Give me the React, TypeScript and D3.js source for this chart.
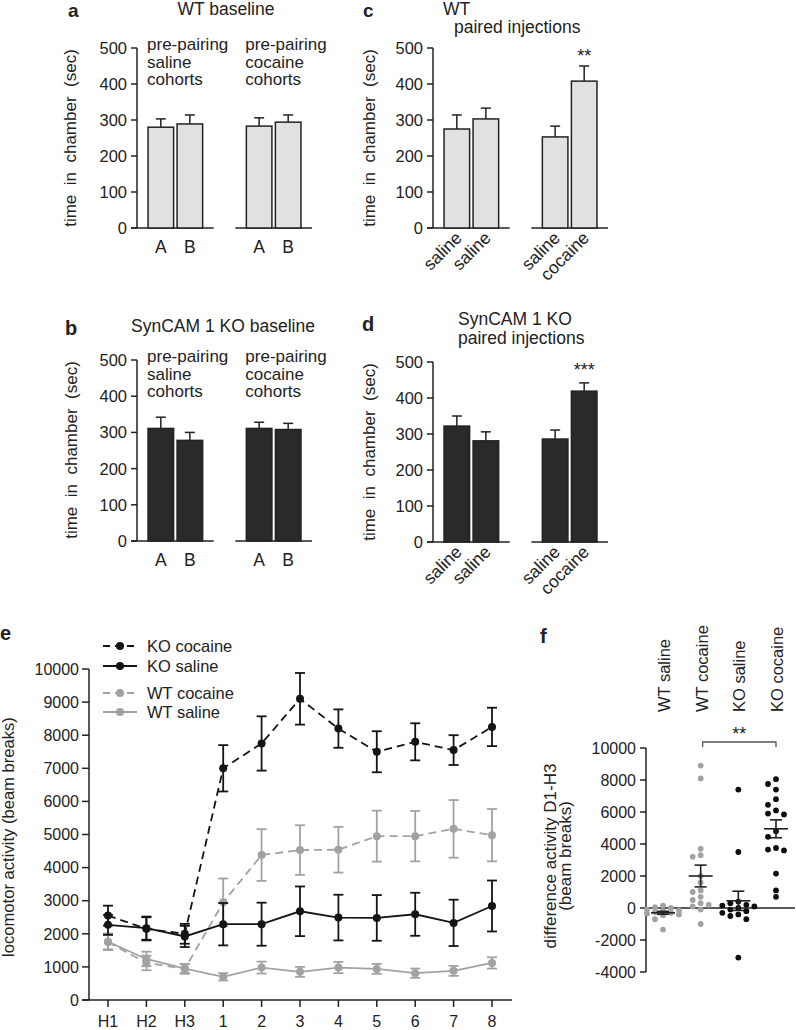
import React from "react";
import * as d3 from "d3";

const FONT = "'Liberation Sans', Arial, Helvetica, sans-serif";
const INK = "#222";
const LIGHT_FILL = "#e1e1e1";
const DARK_FILL = "#2a2a2a";
const GRAY = "#a2a2a2";

// ---------- panels a-d (time in chamber, sec) ----------
const chamberTicks = [0, 100, 200, 300, 400, 500];
const baselineGroups = ["saline cohorts", "cocaine cohorts"];
const baselineGroupText = [
  ["pre-pairing", "saline", "cohorts"],
  ["pre-pairing", "cocaine", "cohorts"],
];
const baselineBarLabels = ["A", "B", "A", "B"];
const wtBaselineMean = [280, 289, 283, 294];
const wtBaselineSem = [23, 25, 23, 20];
const koBaselineMean = [311, 278, 311, 308];
const koBaselineSem = [31, 22, 17, 17];

const pairedGroups = ["saline paired", "cocaine paired"];
const pairedBarLabels = ["saline", "saline", "saline", "cocaine"];
const wtPairedMean = [275, 303, 253, 408];
const wtPairedSem = [39, 30, 30, 42];
const koPairedMean = [322, 281, 286, 419];
const koPairedSem = [28, 25, 25, 23];

// ---------- panel e (locomotor activity) ----------
const sessions = ["H1", "H2", "H3", "1", "2", "3", "4", "5", "6", "7", "8"];
const activityTicks = [0, 1000, 2000, 3000, 4000, 5000, 6000, 7000, 8000, 9000, 10000];
const koCocaineMean = [2550, 2150, 2000, 7000, 7750, 9100, 8200, 7500, 7800, 7550, 8250];
const koCocaineSem = [300, 350, 300, 700, 820, 780, 580, 620, 560, 450, 580];
const koSalineMean = [2270, 2170, 1920, 2290, 2290, 2680, 2490, 2480, 2590, 2330, 2840];
const koSalineSem = [300, 350, 320, 640, 650, 750, 690, 690, 650, 700, 770];
const wtCocaineMean = [1750, 1120, 940, 2950, 4380, 4530, 4540, 4950, 4950, 5170, 4980];
const wtCocaineSem = [220, 220, 150, 720, 780, 750, 690, 770, 760, 870, 790];
const wtSalineMean = [1760, 1240, 950, 700, 980, 850, 980, 940, 810, 880, 1120];
const wtSalineSem = [250, 220, 130, 110, 180, 150, 170, 150, 140, 150, 170];
const legendNames = ["KO cocaine", "KO saline", "WT cocaine", "WT saline"];

// ---------- panel f (difference D1-H3) ----------
const diffGroups = ["WT saline", "WT cocaine", "KO saline", "KO cocaine"];
const diffTicks = [-4000, -2000, 0, 2000, 4000, 6000, 8000, 10000];
const wtSalineDiff = [150, 50, 0, -100, -150, -200, -250, -300, -350, -400, -450, -700, -1350];
const wtCocaineDiff = [8900, 8100, 3700, 3300, 3200, 2000, 1600, 1100, 1000, 700, 500, 300, 200, 100, -100, -1000];
const koSalineDiff = [7400, 3500, 400, 300, 200, 150, 100, 0, -100, -200, -300, -400, -500, -700, -3100];
const koCocaineDiff = [8050, 7750, 7400, 6800, 6450, 6100, 5900, 5850, 4800, 4450, 3750, 3650, 3600, 2150, 1100, 700];
const diffMean = [-300, 2000, 450, 4950];
const diffSem = [90, 680, 600, 560];

type BarPanelProps = {
  axisX: number;
  yBottom: number;
  yTop: number;
  xEnd: number;
  groups: string[];
  labels: string[];
  means: number[];
  sems: number[];
  fill: string;
  rotated: boolean;
  sig?: string;
  sigY?: number;
  groupText?: string[][];
};

function BarPanel(p: BarPanelProps) {
  const y = d3.scaleLinear().domain([0, 500]).range([p.yBottom, p.yTop]);
  const outer = d3.scaleBand<string>().domain(p.groups).range([p.axisX, p.xEnd]).paddingInner(0.22);
  const inner = d3
    .scaleBand<string>()
    .domain(["0", "1"])
    .range([0, outer.bandwidth()])
    .paddingInner(0.12)
    .paddingOuter(0.38);
  const bars = p.means.map((m, i) => {
    const g = p.groups[Math.floor(i / 2)];
    const x0 = (outer(g) as number) + (inner(String(i % 2)) as number);
    return { x0, w: inner.bandwidth(), m, s: p.sems[i], label: p.labels[i] };
  });
  return (
    <g>
      <line x1={p.axisX} x2={p.axisX} y1={y(0)} y2={y(500)} stroke={INK} strokeWidth={1.5} />
      {chamberTicks.map((t) => (
        <g key={t}>
          <line x1={p.axisX - 6} x2={p.axisX} y1={y(t)} y2={y(t)} stroke={INK} strokeWidth={1.5} />
          <text x={p.axisX - 10} y={y(t)} dy="0.36em" textAnchor="end" fontSize={16.5}>
            {t}
          </text>
        </g>
      ))}
      {p.groups.map((g, gi) => (
        <line
          key={g}
          x1={gi === 0 ? p.axisX - 6 : (outer(g) as number)}
          x2={(outer(g) as number) + outer.bandwidth()}
          y1={y(0)}
          y2={y(0)}
          stroke={INK}
          strokeWidth={1.5}
        />
      ))}
      {bars.map((b, i) => {
        const cx = b.x0 + b.w / 2;
        return (
          <g key={i}>
            <line x1={cx} x2={cx} y1={y(b.m)} y2={y(b.m + b.s)} stroke={INK} strokeWidth={1.5} />
            <line x1={cx - 5} x2={cx + 5} y1={y(b.m + b.s)} y2={y(b.m + b.s)} stroke={INK} strokeWidth={1.5} />
            <rect x={b.x0} y={y(b.m)} width={b.w} height={y(0) - y(b.m)} fill={p.fill} stroke={INK} strokeWidth={1.5} />
            {p.rotated ? (
              <text
                transform={`translate(${cx + 6},${y(0) + 11}) rotate(-45)`}
                textAnchor="end"
                fontSize={17.5}
              >
                {b.label}
              </text>
            ) : (
              <text x={cx} y={y(0) + 25} textAnchor="middle" fontSize={17.5}>
                {b.label}
              </text>
            )}
          </g>
        );
      })}
      {p.sig && (
        <text x={bars[3].x0 + bars[3].w / 2} y={p.sigY} textAnchor="middle" fontSize={18}>
          {p.sig}
        </text>
      )}
      {p.groupText &&
        p.groupText.map((lines, gi) => (
          <text key={gi} x={bars[gi * 2].x0 - 1} y={p.yTop + 2} fontSize={17}>
            {lines.map((l, li) => (
              <tspan key={li} x={bars[gi * 2].x0 - 1} dy={li === 0 ? 0 : 17.5}>
                {l}
              </tspan>
            ))}
          </text>
        ))}
    </g>
  );
}

function swarmOffsets(values: number[], y: (v: number) => number, step: number, minDist: number) {
  const placed: { x: number; y: number }[] = [];
  const order = values.map((_, i) => i).sort((a, b) => values[b] - values[a]);
  const out: number[] = new Array(values.length).fill(0);
  const cands = [0, -step, step, -2 * step, 2 * step];
  for (const i of order) {
    const py = y(values[i]);
    let best = 0;
    let bestScore = -1;
    for (const c of cands) {
      let md = Infinity;
      for (const q of placed) {
        const d = Math.hypot(q.x - c, q.y - py);
        if (d < md) md = d;
      }
      if (md >= minDist) {
        best = c;
        break;
      }
      if (md > bestScore) {
        bestScore = md;
        best = c;
      }
    }
    placed.push({ x: best, y: py });
    out[i] = best;
  }
  return out;
}

function PanelE() {
  const x = d3.scalePoint<string>().domain(sessions).range([108, 492]);
  const y = d3.scaleLinear().domain([0, 10000]).range([1000, 669]);
  const axisX = 89;
  const series = [
    { name: "WT saline", mean: wtSalineMean, sem: wtSalineSem, color: GRAY, dash: "" },
    { name: "WT cocaine", mean: wtCocaineMean, sem: wtCocaineSem, color: GRAY, dash: "8,5" },
    { name: "KO saline", mean: koSalineMean, sem: koSalineSem, color: "#141414", dash: "" },
    { name: "KO cocaine", mean: koCocaineMean, sem: koCocaineSem, color: "#141414", dash: "8,5" },
  ];
  const line = d3
    .line<number>()
    .x((_, i) => x(sessions[i]) as number)
    .y((d) => y(d));
  const legendY = [646, 666, 693, 712];
  return (
    <g>
      <text x={0} y={640} fontSize={20} fontWeight="bold">e</text>
      <line x1={axisX} x2={axisX} y1={y(0)} y2={y(10000)} stroke={INK} strokeWidth={1.5} />
      {activityTicks.map((t) => (
        <g key={t}>
          <line x1={axisX - 7} x2={axisX} y1={y(t)} y2={y(t)} stroke={INK} strokeWidth={1.5} />
          <text x={axisX - 10} y={y(t)} dy="0.36em" textAnchor="end" fontSize={16}>
            {t}
          </text>
        </g>
      ))}
      <line x1={axisX - 7} x2={512} y1={y(0)} y2={y(0)} stroke={INK} strokeWidth={1.5} />
      {sessions.map((s) => (
        <g key={s}>
          <line x1={x(s)} x2={x(s)} y1={y(0)} y2={y(0) + 7} stroke={INK} strokeWidth={1.5} />
          <text x={x(s)} y={1027} textAnchor="middle" fontSize={16}>
            {s}
          </text>
        </g>
      ))}
      <text transform={`translate(14,837) rotate(-90)`} textAnchor="middle" fontSize={16.6}>
        locomotor activity (beam breaks)
      </text>
      {series.map((s) => (
        <g key={s.name}>
          <path
            d={line(s.mean) as string}
            fill="none"
            stroke={s.color}
            strokeWidth={1.8}
            strokeDasharray={s.dash || undefined}
          />
          {s.mean.map((m, i) => {
            const cx = x(sessions[i]) as number;
            return (
              <g key={i}>
                <line x1={cx} x2={cx} y1={y(m - s.sem[i])} y2={y(m + s.sem[i])} stroke={s.color} strokeWidth={1.8} />
                <line x1={cx - 5} x2={cx + 5} y1={y(m - s.sem[i])} y2={y(m - s.sem[i])} stroke={s.color} strokeWidth={1.8} />
                <line x1={cx - 5} x2={cx + 5} y1={y(m + s.sem[i])} y2={y(m + s.sem[i])} stroke={s.color} strokeWidth={1.8} />
                <circle cx={cx} cy={y(m)} r={4} fill={s.color} />
              </g>
            );
          })}
        </g>
      ))}
      {legendNames.map((n, i) => {
        const s = series.find((q) => q.name === n)!;
        const ly = legendY[i];
        return (
          <g key={n}>
            <line x1={103} x2={137} y1={ly} y2={ly} stroke={s.color} strokeWidth={1.8} strokeDasharray={s.dash ? "7,5" : undefined} />
            <circle cx={120} cy={ly} r={4} fill={s.color} />
            <text x={147} y={ly} dy="0.36em" fontSize={16.5}>
              {n}
            </text>
          </g>
        );
      })}
    </g>
  );
}

function PanelF() {
  const y = d3.scaleLinear().domain([-4000, 10000]).range([972, 748]);
  const x = d3.scalePoint<string>().domain(diffGroups).range([663, 776]);
  const axisX = 646;
  const data = [wtSalineDiff, wtCocaineDiff, koSalineDiff, koCocaineDiff];
  const colors = [GRAY, GRAY, "#0e0e0e", "#0e0e0e"];
  return (
    <g>
      <text x={540} y={643} fontSize={20} fontWeight="bold">f</text>
      {diffGroups.map((g) => (
        <text key={g} transform={`translate(${(x(g) as number) + 7},712) rotate(-90)`} textAnchor="start" fontSize={16.5}>
          {g}
        </text>
      ))}
      <line x1={axisX} x2={axisX} y1={y(-4000)} y2={y(10000)} stroke={INK} strokeWidth={1.5} />
      {diffTicks.map((t) => (
        <g key={t}>
          <line x1={axisX - 6} x2={axisX} y1={y(t)} y2={y(t)} stroke={INK} strokeWidth={1.5} />
          <text x={axisX - 10} y={y(t)} dy="0.36em" textAnchor="end" fontSize={16}>
            {String(t)}
          </text>
        </g>
      ))}
      <line x1={axisX} x2={795} y1={y(0)} y2={y(0)} stroke={INK} strokeWidth={1.5} />
      <text transform={`translate(556,856) rotate(-90)`} textAnchor="middle" fontSize={17}>
        difference activity D1-H3
      </text>
      <text transform={`translate(571,856) rotate(-90)`} textAnchor="middle" fontSize={17}>
        (beam breaks)
      </text>
      {data.map((vals, gi) => {
        const cx = x(diffGroups[gi]) as number;
        const offs = swarmOffsets(vals, y, 8, 5.8);
        return (
          <g key={gi}>
            {vals.map((v, i) => (
              <circle key={i} cx={cx + offs[i]} cy={y(v)} r={2.9} fill={colors[gi]} />
            ))}
          </g>
        );
      })}
      {diffMean.map((m, gi) => {
        const cx = x(diffGroups[gi]) as number;
        const s = diffSem[gi];
        return (
          <g key={gi} stroke={INK} strokeWidth={1.6}>
            <line x1={cx - 12} x2={cx + 12} y1={y(m)} y2={y(m)} />
            <line x1={cx} x2={cx} y1={y(m - s)} y2={y(m + s)} />
            <line x1={cx - 6} x2={cx + 6} y1={y(m - s)} y2={y(m - s)} />
            <line x1={cx - 6} x2={cx + 6} y1={y(m + s)} y2={y(m + s)} />
          </g>
        );
      })}
      {(() => {
        const x1 = (x("WT cocaine") as number) + 2;
        const x2 = x("KO cocaine") as number;
        return (
          <g>
            <path d={`M${x1},747V742H${x2}V747`} fill="none" stroke="#555" strokeWidth={1.3} />
            <text x={(x1 + x2) / 2} y={740} textAnchor="middle" fontSize={18}>
              **
            </text>
          </g>
        );
      })()}
    </g>
  );
}

export default function App() {
  return (
    <svg
      width={796}
      height={1030}
      style={{ position: "absolute", left: 0, top: 0, background: "#fff" }}
      fontFamily={FONT}
      fill={INK}
    >
      <rect width={796} height={1030} fill="#fff" />
      {/* panel a */}
      <text x={68} y={17} fontSize={19} fontWeight="bold">a</text>
      <text x={226} y={15} textAnchor="middle" fontSize={17.5}>WT baseline</text>
      <text transform="translate(76,138) rotate(-90)" textAnchor="middle" fontSize={17} style={{ whiteSpace: "pre" }}>
        {"time  in  chamber  (sec)"}
      </text>
      <BarPanel
        axisX={137}
        yBottom={228}
        yTop={48}
        xEnd={312}
        groups={baselineGroups}
        labels={baselineBarLabels}
        means={wtBaselineMean}
        sems={wtBaselineSem}
        fill={LIGHT_FILL}
        rotated={false}
        groupText={baselineGroupText}
      />
      {/* panel b */}
      <text x={65} y={335} fontSize={20} fontWeight="bold">b</text>
      <text x={223} y={332} textAnchor="middle" fontSize={17.5}>SynCAM 1 KO baseline</text>
      <text transform="translate(77,450) rotate(-90)" textAnchor="middle" fontSize={17} style={{ whiteSpace: "pre" }}>
        {"time  in  chamber  (sec)"}
      </text>
      <BarPanel
        axisX={137}
        yBottom={541}
        yTop={360}
        xEnd={312}
        groups={baselineGroups}
        labels={baselineBarLabels}
        means={koBaselineMean}
        sems={koBaselineSem}
        fill={DARK_FILL}
        rotated={false}
        groupText={baselineGroupText}
      />
      {/* panel c */}
      <text x={363} y={17} fontSize={19} fontWeight="bold">c</text>
      <text x={443} y={15} fontSize={17.5}>WT</text>
      <text x={454} y={33} fontSize={17.5}>paired injections</text>
      <text transform="translate(375,138) rotate(-90)" textAnchor="middle" fontSize={17} style={{ whiteSpace: "pre" }}>
        {"time  in  chamber  (sec)"}
      </text>
      <BarPanel
        axisX={433}
        yBottom={228}
        yTop={48}
        xEnd={608}
        groups={pairedGroups}
        labels={pairedBarLabels}
        means={wtPairedMean}
        sems={wtPairedSem}
        fill={LIGHT_FILL}
        rotated={true}
        sig="**"
        sigY={62}
      />
      {/* panel d */}
      <text x={362} y={331} fontSize={20} fontWeight="bold">d</text>
      <text x={458} y={325} fontSize={17.5}>SynCAM 1 KO</text>
      <text x={458} y={344} fontSize={17.5}>paired injections</text>
      <text transform="translate(375,452) rotate(-90)" textAnchor="middle" fontSize={17} style={{ whiteSpace: "pre" }}>
        {"time  in  chamber  (sec)"}
      </text>
      <BarPanel
        axisX={433}
        yBottom={542}
        yTop={362}
        xEnd={608}
        groups={pairedGroups}
        labels={pairedBarLabels}
        means={koPairedMean}
        sems={koPairedSem}
        fill={DARK_FILL}
        rotated={true}
        sig="***"
        sigY={376}
      />
      <PanelE />
      <PanelF />
    </svg>
  );
}
